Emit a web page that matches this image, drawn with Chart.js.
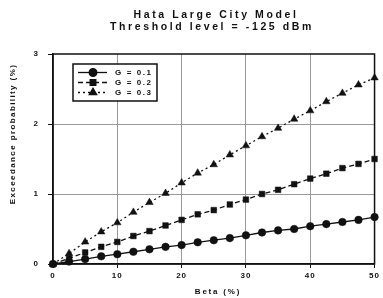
<!DOCTYPE html>
<html><head><meta charset="utf-8">
<script src="https://cdn.jsdelivr.net/npm/chart.js@4/dist/chart.umd.min.js"></script>
<style>html,body{margin:0;padding:0;background:#fff}canvas{display:block}</style>
</head><body><canvas id="c" width="383" height="298"></canvas>
<script>
const titleLines = ["Hata Large City Model", "Threshold level = -125 dBm"];
const xTitle = "Beta (%)";
const yTitle = "Exceedance probability (%)";
const seriesNames = ["G = 0.1", "G = 0.2", "G = 0.3"];
const beta = [0,2.5,5,7.5,10,12.5,15,17.5,20,22.5,25,27.5,30,32.5,35,37.5,40,42.5,45,47.5,50];
const g01 = [0,0.035,0.07,0.11,0.14,0.175,0.21,0.245,0.27,0.31,0.34,0.37,0.41,0.45,0.48,0.50,0.54,0.57,0.60,0.63,0.67];
const g02 = [0,0.08,0.165,0.245,0.315,0.40,0.47,0.55,0.63,0.71,0.77,0.85,0.92,1.0,1.06,1.14,1.22,1.29,1.37,1.43,1.50];
const g03 = [0,0.15,0.315,0.46,0.59,0.74,0.88,1.01,1.16,1.30,1.42,1.56,1.69,1.82,1.94,2.07,2.19,2.32,2.44,2.56,2.66];
const xTicks = [0,10,20,30,40,50];
const yTicks = [0,1,2,3];

const FONT = "'Liberation Sans', Arial, sans-serif";
const toPts = ys => beta.map((b,i)=>({x:b,y:ys[i]}));
const styles = [
  {pointStyle:'circle', dash:[], r:3.8},
  {pointStyle:'rect', dash:[5,3], r:4},
  {pointStyle:'triangle', dash:[2,3], r:4.3}
];
const seriesData = [g01,g02,g03];

const datasets = seriesData.map((ys,i)=>({
  label: seriesNames[i],
  data: toPts(ys),
  borderColor:'#111', backgroundColor:'#111',
  borderWidth: 1.3, borderDash: styles[i].dash,
  pointStyle: styles[i].pointStyle, pointRadius: styles[i].r,
  pointBackgroundColor:'#111', pointBorderColor:'#111', pointBorderWidth:0.5,
  tension:0, clip:false
}));

const custom = {
  id:'custom',
  beforeLayout(chart){ chart.ctx.letterSpacing='1px'; },
  beforeDraw(chart){
    const ctx=chart.ctx;
    ctx.save(); ctx.fillStyle='#fff'; ctx.fillRect(0,0,chart.width,chart.height); ctx.restore();
    ctx.letterSpacing='1px';
  },
  afterDatasetsDraw(chart){
    const ctx=chart.ctx, a=chart.chartArea;
    ctx.save();
    ctx.strokeStyle='#111'; ctx.lineWidth=1.5; ctx.setLineDash([]);
    ctx.strokeRect(a.left,a.top,a.right-a.left,a.bottom-a.top);
    ctx.fillStyle='#111'; ctx.textAlign='center'; ctx.textBaseline='middle';
    ctx.font='bold 10.5px '+FONT; ctx.letterSpacing='2.6px';
    ctx.fillText(titleLines[0], 216, 15);
    ctx.fillText(titleLines[1], 212, 27);
    ctx.font='bold 8px '+FONT; ctx.letterSpacing='1.8px';
    ctx.fillText(xTitle, 218, 292);
    ctx.save(); ctx.translate(13,134); ctx.rotate(-Math.PI/2);
    ctx.letterSpacing='1.4px';
    ctx.fillText(yTitle,0,0); ctx.restore();
    const lx=73, ly=64, lw=84, lh=37;
    ctx.fillStyle='#fff'; ctx.fillRect(lx,ly,lw,lh);
    ctx.strokeStyle='#111'; ctx.lineWidth=1.5; ctx.strokeRect(lx,ly,lw,lh);
    const rows=[72.5,82.5,92.5];
    rows.forEach((yy,i)=>{
      ctx.strokeStyle='#111'; ctx.lineWidth=1.3; ctx.setLineDash(styles[i].dash);
      ctx.beginPath(); ctx.moveTo(78,yy); ctx.lineTo(107,yy); ctx.stroke();
      ctx.setLineDash([]);
      ctx.fillStyle='#111';
      Chart.helpers.drawPoint(ctx,{pointStyle:styles[i].pointStyle,radius:styles[i].r,borderWidth:0.5,rotation:0},93,yy);
      ctx.fill();
      ctx.textAlign='left'; ctx.font='bold 8px '+FONT; ctx.letterSpacing='1.6px';
      ctx.fillText(seriesNames[i],115,yy+0.5);
    });
    ctx.restore();
  }
};

new Chart(document.getElementById('c'),{
  type:'line',
  data:{datasets},
  plugins:[custom],
  options:{
    responsive:false, animation:false, devicePixelRatio:1,
    layout:{padding:{top:54,right:5,left:0,bottom:0}},
    plugins:{legend:{display:false},title:{display:false},tooltip:{enabled:false}},
    scales:{
      x:{type:'linear',min:0,max:50,
        afterBuildTicks(s){ s.ticks = xTicks.map(v=>({value:v})); },
        afterFit(s){ s.height=34; },
        ticks:{color:'#111',font:{family:FONT,size:8,weight:'bold'},padding:3,maxRotation:0},
        grid:{color:ctx=>(ctx.tick && (ctx.tick.value===0||ctx.tick.value===50))?'rgba(0,0,0,0)':'#999',
              lineWidth:1, borderDash:[1,2], tickColor:'#111', tickLength:4, tickBorderDash:[]},
        border:{display:true,color:'#111',width:1.5}
      },
      y:{type:'linear',min:0,max:3,
        afterBuildTicks(s){ s.ticks = yTicks.map(v=>({value:v})); },
        afterFit(s){ s.width=53; },
        ticks:{color:'#111',font:{family:FONT,size:8,weight:'bold'},padding:9},
        grid:{color:ctx=>(ctx.tick && (ctx.tick.value===0||ctx.tick.value===3))?'rgba(0,0,0,0)':'#999',
              lineWidth:1, borderDash:[1,2], tickColor:'#111', tickLength:5, tickBorderDash:[]},
        border:{display:true,color:'#111',width:1.5}
      }
    }
  }
});
</script>
</body></html>
